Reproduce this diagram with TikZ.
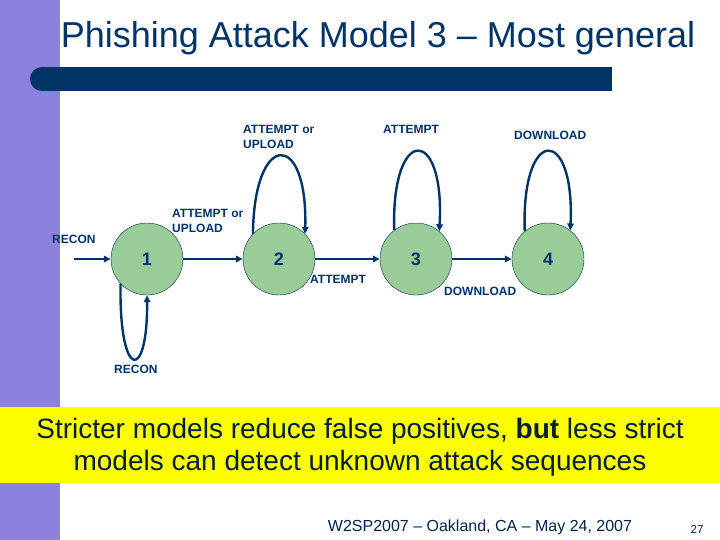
\documentclass[tikz,border=0pt]{standalone}
\usepackage{fontspec}
\setmainfont{Liberation Sans}
\usetikzlibrary{arrows.meta}
\definecolor{navy}{RGB}{0,51,102}
\definecolor{lilac}{RGB}{140,130,222}
\definecolor{statefill}{RGB}{153,204,153}
\definecolor{note}{RGB}{255,255,0}
\tikzset{
  state/.style={circle,draw=navy!80!black,fill=statefill,minimum size=72pt,inner sep=0pt,
    font=\fontsize{18}{18}\selectfont\bfseries,text=navy},
  lbl/.style={font=\fontsize{12}{15}\selectfont\bfseries,text=navy,align=left,inner sep=0pt},
  edge/.style={->,draw=navy,line width=2.4pt}
}
\begin{document}
\begin{tikzpicture}[x=1pt,y=-1pt,>={Triangle[length=7pt,width=6.5pt]}]
  \useasboundingbox (0,0) rectangle (720,540);
  % slide background
  \fill[lilac] (0,0) rectangle (60,540);
  \fill[note] (0,407) rectangle (720,483);
  \fill[navy] (42,67) rectangle (612,91);
  \fill[navy] (42,79) circle (12);
  \node[font=\fontsize{36}{36}\selectfont,text=navy] (title) at (378,38) {Phishing Attack Model 3 -- Most general};

  % states
  \node[state] (s1) at (147,259) {1};
  \node[state] (s2) at (279,259) {2};
  \node[state] (s3) at (416,259) {3};
  \node[state] (s4) at (548,259) {4};
  \coordinate (start) at (74,259);

  \draw[edge] (start) -- (s1);
  \draw[edge] (s1) -- (s2);
  \draw[edge] (s2) -- (s3);
  \draw[edge] (s3) -- (s4);
  % self loops
  \draw[edge] (s1.223) .. controls (119,382) and (148,382) .. (s1.south);
  \draw[edge] (s2.136) .. controls (254,130) and (308,130) .. (s2.44);
  \draw[edge] (s3.127) .. controls (391,125) and (445,125) .. (s3.50);
  \draw[edge] (s4.130) .. controls (521,125) and (575,125) .. (s4.52);

  % labels
  \node[lbl,anchor=north west] (l2a) at (243,125) {ATTEMPT or\\UPLOAD};
  \node[lbl,anchor=north west] (l3a) at (383,125) {ATTEMPT};
  \node[lbl,anchor=north west] (l4a) at (514,131) {DOWNLOAD};
  \node[lbl,anchor=north west] (l12) at (172,209) {ATTEMPT or\\UPLOAD};
  \node[lbl,anchor=north west] (lin) at (52,235) {RECON};
  \node[lbl,anchor=north west] (l23) at (310,275) {ATTEMPT};
  \node[lbl,anchor=north west] (l34) at (444,287) {DOWNLOAD};
  \node[lbl,anchor=north west] (l1a) at (114,365) {RECON};

  % note and footer
  \node[font=\fontsize{28}{32}\selectfont,text=navy!60!black,align=center] (msg) at (360,447)
    {Stricter models reduce false positives, \textbf{but} less strict\\models can detect unknown attack sequences};
  \node[font=\fontsize{16}{16}\selectfont,text=navy!70!black] (foot) at (480,527) {W2SP2007 -- Oakland, CA -- May 24, 2007};
  \node[font=\fontsize{11.5}{11.5}\selectfont,text=navy!70!black] (page) at (697,529) {27};
\end{tikzpicture}
\end{document}
